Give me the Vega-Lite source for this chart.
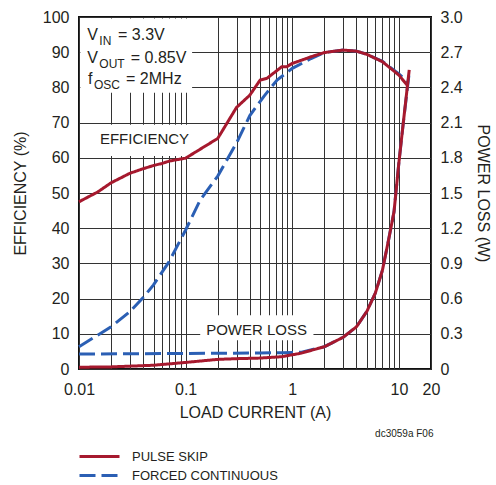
{
  "$schema": "https://vega.github.io/schema/vega-lite/v6.json",
  "autosize": "none",
  "width": 352,
  "height": 352,
  "padding": {"left": 79, "top": 17, "right": 65, "bottom": 116},
  "background": "white",
  "config": {
    "font": "Liberation Sans",
    "view": {"stroke": "#111111", "strokeWidth": 2},
    "axis": {
      "labelFont": "Liberation Sans",
      "labelFontSize": 16,
      "labelColor": "#231f20",
      "titleFont": "Liberation Sans",
      "titleFontSize": 16,
      "titleFontWeight": "normal",
      "titleColor": "#231f20",
      "tickSize": 0,
      "domain": false,
      "gridColor": "#333333",
      "gridWidth": 1,
      "gridOpacity": 1,
      "labelOverlap": false
    },
    "axisLeft": {
      "values": [0, 10, 20, 30, 40, 50, 60, 70, 80, 90, 100],
      "tickCount": 11,
      "labelPadding": 10,
      "titlePadding": 14,
      "grid": true
    },
    "legend": {
      "orient": "none",
      "legendX": -1,
      "legendY": 428,
      "padding": 0,
      "symbolType": "M-1,0H3",
      "symbolSize": 400,
      "symbolStrokeWidth": 3,
      "labelFont": "Liberation Sans",
      "labelFontSize": 13,
      "labelColor": "#231f20",
      "labelOffset": 31,
      "labelLimit": 400,
      "rowPadding": -4
    },
    "text": {"color": "#231f20", "font": "Liberation Sans"}
  },
  "datasets": {
    "curves": [
      {"m": "eff", "mode": "FORCED CONTINUOUS", "x": 0.01, "v": 6.3},
      {"m": "eff", "mode": "FORCED CONTINUOUS", "x": 0.02, "v": 12.0},
      {"m": "eff", "mode": "FORCED CONTINUOUS", "x": 0.03, "v": 16.3},
      {"m": "eff", "mode": "FORCED CONTINUOUS", "x": 0.04, "v": 20.3},
      {"m": "eff", "mode": "FORCED CONTINUOUS", "x": 0.05, "v": 23.9},
      {"m": "eff", "mode": "FORCED CONTINUOUS", "x": 0.07, "v": 30.5},
      {"m": "eff", "mode": "FORCED CONTINUOUS", "x": 0.1, "v": 39.5},
      {"m": "eff", "mode": "FORCED CONTINUOUS", "x": 0.137, "v": 48.0},
      {"m": "eff", "mode": "FORCED CONTINUOUS", "x": 0.2, "v": 54.8},
      {"m": "eff", "mode": "FORCED CONTINUOUS", "x": 0.3, "v": 64.2},
      {"m": "eff", "mode": "FORCED CONTINUOUS", "x": 0.4, "v": 72.0},
      {"m": "eff", "mode": "FORCED CONTINUOUS", "x": 0.54, "v": 77.4},
      {"m": "eff", "mode": "FORCED CONTINUOUS", "x": 0.72, "v": 82.1},
      {"m": "eff", "mode": "FORCED CONTINUOUS", "x": 1.0, "v": 85.4},
      {"m": "eff", "mode": "FORCED CONTINUOUS", "x": 1.5, "v": 88.2},
      {"m": "eff", "mode": "FORCED CONTINUOUS", "x": 2.0, "v": 89.9},
      {"m": "eff", "mode": "FORCED CONTINUOUS", "x": 3.0, "v": 90.6},
      {"m": "eff", "mode": "FORCED CONTINUOUS", "x": 4.0, "v": 90.3},
      {"m": "eff", "mode": "FORCED CONTINUOUS", "x": 5.0, "v": 89.4},
      {"m": "eff", "mode": "FORCED CONTINUOUS", "x": 7.0, "v": 87.4},
      {"m": "eff", "mode": "FORCED CONTINUOUS", "x": 10.0, "v": 83.8},
      {"m": "eff", "mode": "FORCED CONTINUOUS", "x": 12.2, "v": 81.5},
      {"m": "loss", "mode": "FORCED CONTINUOUS", "x": 0.01, "v": 0.128},
      {"m": "loss", "mode": "FORCED CONTINUOUS", "x": 0.1, "v": 0.132},
      {"m": "loss", "mode": "FORCED CONTINUOUS", "x": 0.5, "v": 0.137},
      {"m": "loss", "mode": "FORCED CONTINUOUS", "x": 0.8, "v": 0.139},
      {"m": "loss", "mode": "FORCED CONTINUOUS", "x": 1.2, "v": 0.142},
      {"m": "loss", "mode": "FORCED CONTINUOUS", "x": 2.0, "v": 0.19},
      {"m": "loss", "mode": "FORCED CONTINUOUS", "x": 3.0, "v": 0.27},
      {"m": "loss", "mode": "FORCED CONTINUOUS", "x": 4.0, "v": 0.36},
      {"m": "loss", "mode": "FORCED CONTINUOUS", "x": 5.0, "v": 0.49},
      {"m": "loss", "mode": "FORCED CONTINUOUS", "x": 6.0, "v": 0.645},
      {"m": "loss", "mode": "FORCED CONTINUOUS", "x": 7.0, "v": 0.84},
      {"m": "loss", "mode": "FORCED CONTINUOUS", "x": 8.0, "v": 1.1},
      {"m": "loss", "mode": "FORCED CONTINUOUS", "x": 9.0, "v": 1.34},
      {"m": "loss", "mode": "FORCED CONTINUOUS", "x": 10.0, "v": 1.76},
      {"m": "loss", "mode": "FORCED CONTINUOUS", "x": 11.0, "v": 2.1},
      {"m": "loss", "mode": "FORCED CONTINUOUS", "x": 12.4, "v": 2.5},
      {"m": "eff", "mode": "PULSE SKIP", "x": 0.01, "v": 47.5},
      {"m": "eff", "mode": "PULSE SKIP", "x": 0.015, "v": 50.3},
      {"m": "eff", "mode": "PULSE SKIP", "x": 0.02, "v": 52.9},
      {"m": "eff", "mode": "PULSE SKIP", "x": 0.03, "v": 55.6},
      {"m": "eff", "mode": "PULSE SKIP", "x": 0.04, "v": 56.9},
      {"m": "eff", "mode": "PULSE SKIP", "x": 0.05, "v": 57.8},
      {"m": "eff", "mode": "PULSE SKIP", "x": 0.06, "v": 58.4},
      {"m": "eff", "mode": "PULSE SKIP", "x": 0.071, "v": 59.1},
      {"m": "eff", "mode": "PULSE SKIP", "x": 0.1, "v": 59.9},
      {"m": "eff", "mode": "PULSE SKIP", "x": 0.2, "v": 65.5},
      {"m": "eff", "mode": "PULSE SKIP", "x": 0.3, "v": 74.3},
      {"m": "eff", "mode": "PULSE SKIP", "x": 0.4, "v": 77.8},
      {"m": "eff", "mode": "PULSE SKIP", "x": 0.5, "v": 82.1},
      {"m": "eff", "mode": "PULSE SKIP", "x": 0.58, "v": 82.6},
      {"m": "eff", "mode": "PULSE SKIP", "x": 0.8, "v": 85.9},
      {"m": "eff", "mode": "PULSE SKIP", "x": 0.89, "v": 85.9},
      {"m": "eff", "mode": "PULSE SKIP", "x": 1.0, "v": 86.8},
      {"m": "eff", "mode": "PULSE SKIP", "x": 1.5, "v": 88.7},
      {"m": "eff", "mode": "PULSE SKIP", "x": 2.0, "v": 89.9},
      {"m": "eff", "mode": "PULSE SKIP", "x": 3.0, "v": 90.6},
      {"m": "eff", "mode": "PULSE SKIP", "x": 4.0, "v": 90.3},
      {"m": "eff", "mode": "PULSE SKIP", "x": 5.0, "v": 89.4},
      {"m": "eff", "mode": "PULSE SKIP", "x": 7.0, "v": 87.3},
      {"m": "eff", "mode": "PULSE SKIP", "x": 10.0, "v": 83.5},
      {"m": "eff", "mode": "PULSE SKIP", "x": 11.9, "v": 80.7},
      {"m": "loss", "mode": "PULSE SKIP", "x": 0.01, "v": 0.015},
      {"m": "loss", "mode": "PULSE SKIP", "x": 0.02, "v": 0.018},
      {"m": "loss", "mode": "PULSE SKIP", "x": 0.05, "v": 0.032},
      {"m": "loss", "mode": "PULSE SKIP", "x": 0.1, "v": 0.056},
      {"m": "loss", "mode": "PULSE SKIP", "x": 0.2, "v": 0.082},
      {"m": "loss", "mode": "PULSE SKIP", "x": 0.3, "v": 0.088},
      {"m": "loss", "mode": "PULSE SKIP", "x": 0.5, "v": 0.093},
      {"m": "loss", "mode": "PULSE SKIP", "x": 0.8, "v": 0.105},
      {"m": "loss", "mode": "PULSE SKIP", "x": 1.2, "v": 0.134},
      {"m": "loss", "mode": "PULSE SKIP", "x": 2.0, "v": 0.19},
      {"m": "loss", "mode": "PULSE SKIP", "x": 3.0, "v": 0.27},
      {"m": "loss", "mode": "PULSE SKIP", "x": 4.0, "v": 0.36},
      {"m": "loss", "mode": "PULSE SKIP", "x": 5.0, "v": 0.49},
      {"m": "loss", "mode": "PULSE SKIP", "x": 6.0, "v": 0.645},
      {"m": "loss", "mode": "PULSE SKIP", "x": 7.0, "v": 0.84},
      {"m": "loss", "mode": "PULSE SKIP", "x": 8.0, "v": 1.1},
      {"m": "loss", "mode": "PULSE SKIP", "x": 9.0, "v": 1.34},
      {"m": "loss", "mode": "PULSE SKIP", "x": 10.0, "v": 1.76},
      {"m": "loss", "mode": "PULSE SKIP", "x": 11.0, "v": 2.1},
      {"m": "loss", "mode": "PULSE SKIP", "x": 12.5, "v": 2.55}
    ],
    "boxes": [
      {"x1": 0.0103, "x2": 0.115, "y1": 78.5, "y2": 99.6},
      {"x1": 0.0148, "x2": 0.106, "y1": 60.5, "y2": 69.4},
      {"x1": 0.137, "x2": 1.58, "y1": 8.2, "y2": 15.3}
    ],
    "bigtext": [
      {"x": 0.01197, "y": 93.4, "t": "V"},
      {"x": 0.02323, "y": 93.4, "t": "= 3.3V"},
      {"x": 0.01197, "y": 86.9, "t": "V"},
      {"x": 0.0306, "y": 86.9, "t": "= 0.85V"},
      {"x": 0.01215, "y": 80.9, "t": "f"},
      {"x": 0.02763, "y": 80.9, "t": "= 2MHz"}
    ],
    "midtext": [
      {"x": 0.0157, "y": 64.0, "t": "EFFICIENCY"},
      {"x": 0.1557, "y": 9.7, "t": "POWER LOSS"}
    ],
    "subtext": [
      {"x": 0.01551, "y": 92.1, "t": "IN"},
      {"x": 0.01551, "y": 85.6, "t": "OUT"},
      {"x": 0.01383, "y": 79.6, "t": "OSC"}
    ],
    "note": [
      {"x": 21.1, "y": -19.3, "t": "dc3059a F06"}
    ]
  },
  "layer": [
    {
      "layer": [
        {
          "data": {"name": "boxes"},
          "mark": {"type": "rect", "fill": "white", "stroke": null},
          "encoding": {
            "x": {
              "field": "x1", "type": "quantitative",
              "scale": {"type": "log", "domain": [0.01, 20], "nice": false},
              "axis": {
                "title": "LOAD CURRENT (A)",
                "values": [0.01, 0.02, 0.03, 0.04, 0.05, 0.06, 0.07, 0.08, 0.09, 0.1, 0.2, 0.3, 0.4, 0.5, 0.6, 0.7, 0.8, 0.9, 1, 2, 3, 4, 5, 6, 7, 8, 9, 10, 20],
                "format": "~g",
                "labelExpr": "indexof([0.01, 0.1, 1, 10, 20], datum.value) >= 0 ? datum.label : ''",
                "labelPadding": 12,
                "labelFlush": false,
                "titlePadding": 7,
                "grid": true
              }
            },
            "x2": {"field": "x2"},
            "y": {
              "field": "y1", "type": "quantitative",
              "scale": {"domain": [0, 100], "nice": false},
              "axis": {
                "title": "EFFICIENCY (%)",
                "values": [0, 10, 20, 30, 40, 50, 60, 70, 80, 90, 100],
                "tickCount": 11
              }
            },
            "y2": {"field": "y2"}
          }
        },
        {
          "data": {"name": "curves"},
          "transform": [{"filter": "datum.m == 'eff'"}],
          "mark": {"type": "line", "strokeWidth": 3, "strokeCap": "butt"},
          "encoding": {
            "x": {"field": "x", "type": "quantitative", "scale": {"type": "log", "domain": [0.01, 20], "nice": false}},
            "y": {
              "field": "v", "type": "quantitative",
              "scale": {"domain": [0, 100], "nice": false},
              "axis": {"title": "EFFICIENCY (%)", "values": [0, 10, 20, 30, 40, 50, 60, 70, 80, 90, 100], "tickCount": 11}
            },
            "color": {
              "field": "mode", "type": "nominal", "title": null,
              "scale": {"domain": ["PULSE SKIP", "FORCED CONTINUOUS"], "range": ["#a6192e", "#2b5fb4"]}
            },
            "strokeDash": {
              "field": "mode", "type": "nominal", "title": null,
              "scale": {"domain": ["PULSE SKIP", "FORCED CONTINUOUS"], "range": [[1, 0], [16, 6]]}
            }
          }
        },
        {
          "data": {"name": "bigtext"},
          "mark": {"type": "text", "align": "left", "baseline": "alphabetic", "fontSize": 16},
          "encoding": {
            "x": {"field": "x", "type": "quantitative", "scale": {"type": "log", "domain": [0.01, 20], "nice": false}},
            "y": {"field": "y", "type": "quantitative", "scale": {"domain": [0, 100], "nice": false}, "axis": {"title": "EFFICIENCY (%)", "values": [0, 10, 20, 30, 40, 50, 60, 70, 80, 90, 100], "tickCount": 11}},
            "text": {"field": "t"}
          }
        },
        {
          "data": {"name": "midtext"},
          "mark": {"type": "text", "align": "left", "baseline": "alphabetic", "fontSize": 15},
          "encoding": {
            "x": {"field": "x", "type": "quantitative", "scale": {"type": "log", "domain": [0.01, 20], "nice": false}},
            "y": {"field": "y", "type": "quantitative", "scale": {"domain": [0, 100], "nice": false}, "axis": {"title": "EFFICIENCY (%)", "values": [0, 10, 20, 30, 40, 50, 60, 70, 80, 90, 100], "tickCount": 11}},
            "text": {"field": "t"}
          }
        },
        {
          "data": {"name": "subtext"},
          "mark": {"type": "text", "align": "left", "baseline": "alphabetic", "fontSize": 12},
          "encoding": {
            "x": {"field": "x", "type": "quantitative", "scale": {"type": "log", "domain": [0.01, 20], "nice": false}},
            "y": {"field": "y", "type": "quantitative", "scale": {"domain": [0, 100], "nice": false}, "axis": {"title": "EFFICIENCY (%)", "values": [0, 10, 20, 30, 40, 50, 60, 70, 80, 90, 100], "tickCount": 11}},
            "text": {"field": "t"}
          }
        },
        {
          "data": {"name": "note"},
          "mark": {"type": "text", "align": "right", "baseline": "alphabetic", "fontSize": 10},
          "encoding": {
            "x": {"field": "x", "type": "quantitative", "scale": {"type": "log", "domain": [0.01, 20], "nice": false}},
            "y": {"field": "y", "type": "quantitative", "scale": {"domain": [0, 100], "nice": false}, "axis": {"title": "EFFICIENCY (%)", "values": [0, 10, 20, 30, 40, 50, 60, 70, 80, 90, 100], "tickCount": 11}},
            "text": {"field": "t"}
          }
        }
      ]
    },
    {
      "data": {"name": "curves"},
      "transform": [{"filter": "datum.m == 'loss'"}],
      "mark": {"type": "line", "strokeWidth": 3, "strokeCap": "butt"},
      "encoding": {
        "x": {"field": "x", "type": "quantitative", "scale": {"type": "log", "domain": [0.01, 20], "nice": false}},
        "y": {
          "field": "v", "type": "quantitative",
          "scale": {"domain": [0, 3], "nice": false},
          "axis": {
            "orient": "right",
            "title": "POWER LOSS (W)",
            "values": [0, 0.3, 0.6, 0.9, 1.2, 1.5, 1.8, 2.1, 2.4, 2.7, 3.0],
            "labelExpr": "datum.value == 0 ? '0' : format(datum.value, '.1f')",
            "labelPadding": 9,
            "titlePadding": 12,
            "grid": false
          }
        },
        "color": {
          "field": "mode", "type": "nominal", "title": null,
          "scale": {"domain": ["PULSE SKIP", "FORCED CONTINUOUS"], "range": ["#a6192e", "#2b5fb4"]}
        },
        "strokeDash": {
          "field": "mode", "type": "nominal", "title": null,
          "scale": {"domain": ["PULSE SKIP", "FORCED CONTINUOUS"], "range": [[1, 0], [16, 6]]}
        }
      }
    }
  ],
  "resolve": {"scale": {"y": "independent"}}
}
